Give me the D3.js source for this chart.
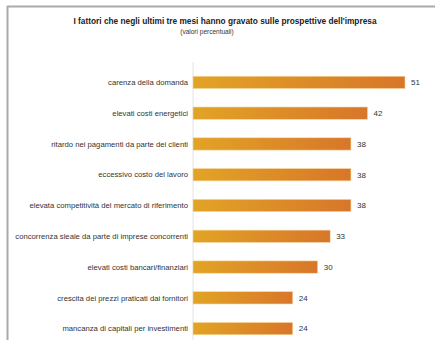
<!DOCTYPE html>
<html lang="it">
<head>
  <meta charset="UTF-8">
  <title>Fattori che hanno gravato sulle prospettive dell'impresa</title>
  <script src="https://d3js.org/d3.v7.min.js"></script>
  <style>
    body { margin: 0; background: #fff; font-family: "Liberation Sans", Arial, sans-serif; }
    svg { display: block; }
  </style>
</head>
<body>
  <svg width="435" height="340"></svg>

  <script>
    const categories = [
      "carenza della domanda",
      "elevati costi energetici",
      "ritardo nei pagamenti da parte dei clienti",
      "eccessivo costo del lavoro",
      "elevata competitività del mercato di riferimento",
      "concorrenza sleale da parte di imprese concorrenti",
      "elevati costi bancari/finanziari",
      "crescita dei prezzi praticati dai fornitori",
      "mancanza di capitali per investimenti"
    ];
    const values = [51, 42, 38, 38, 38, 33, 30, 24, 24];

    const svg = d3.select("svg");

    // frame (top and left edge only, as in the scan)
    svg.append("line").attr("x1", 7).attr("x2", 435).attr("y1", 6.5).attr("y2", 6.5)
      .attr("stroke", "#aaa").attr("stroke-width", 2);
    svg.append("line").attr("x1", 7.5).attr("x2", 7.5).attr("y1", 6).attr("y2", 340)
      .attr("stroke", "#aaa").attr("stroke-width", 2);

    svg.append("text")
      .attr("x", 225).attr("y", 24)
      .attr("text-anchor", "middle")
      .attr("font-size", "8.3px").attr("font-weight", "bold").attr("fill", "#222")
      .text("I fattori che negli ultimi tre mesi hanno gravato sulle prospettive dell'impresa");
    svg.append("text")
      .attr("x", 207).attr("y", 34)
      .attr("text-anchor", "middle")
      .attr("font-size", "6.5px").attr("fill", "#333")
      .text("(valori percentuali)");

    const x = d3.scaleLinear().domain([0, 51]).range([193, 405]);
    const y = d3.scaleBand().domain(categories).range([67, 344]).paddingInner(0.6).paddingOuter(0.3);

    const grad = svg.append("defs").append("linearGradient")
      .attr("id", "barGrad").attr("x1", "0%").attr("x2", "100%");
    grad.append("stop").attr("offset", "0%").attr("stop-color", "#e2a425");
    grad.append("stop").attr("offset", "100%").attr("stop-color", "#d8762a");

    // vertical axis line
    svg.append("line")
      .attr("x1", x(0)).attr("x2", x(0)).attr("y1", 62).attr("y2", 340)
      .attr("stroke", "#e4e4e4").attr("stroke-width", 1);

    svg.selectAll("rect.bar")
      .data(values)
      .enter()
      .append("rect")
      .attr("class", "bar")
      .attr("x", x(0))
      .attr("y", (d, i) => y(categories[i]))
      .attr("width", d => x(d) - x(0))
      .attr("height", y.bandwidth())
      .attr("fill", "url(#barGrad)")
      .attr("stroke", "#f5d9a0").attr("stroke-width", 0.6);

    svg.selectAll("text.cat")
      .data(categories)
      .enter()
      .append("text")
      .attr("class", "cat")
      .attr("x", 188)
      .attr("y", d => y(d) + y.bandwidth() / 2)
      .attr("dy", "0.35em")
      .attr("text-anchor", "end")
      .attr("font-size", "7.7px").attr("fill", "#333")
      .text(d => d);

    svg.selectAll("text.val")
      .data(values)
      .enter()
      .append("text")
      .attr("class", "val")
      .attr("x", d => x(d) + 6)
      .attr("y", (d, i) => y(categories[i]) + y.bandwidth() / 2)
      .attr("dy", "0.35em")
      .attr("font-size", "8px").attr("fill", "#333")
      .text(d => d);
  </script>
</body>
</html>
